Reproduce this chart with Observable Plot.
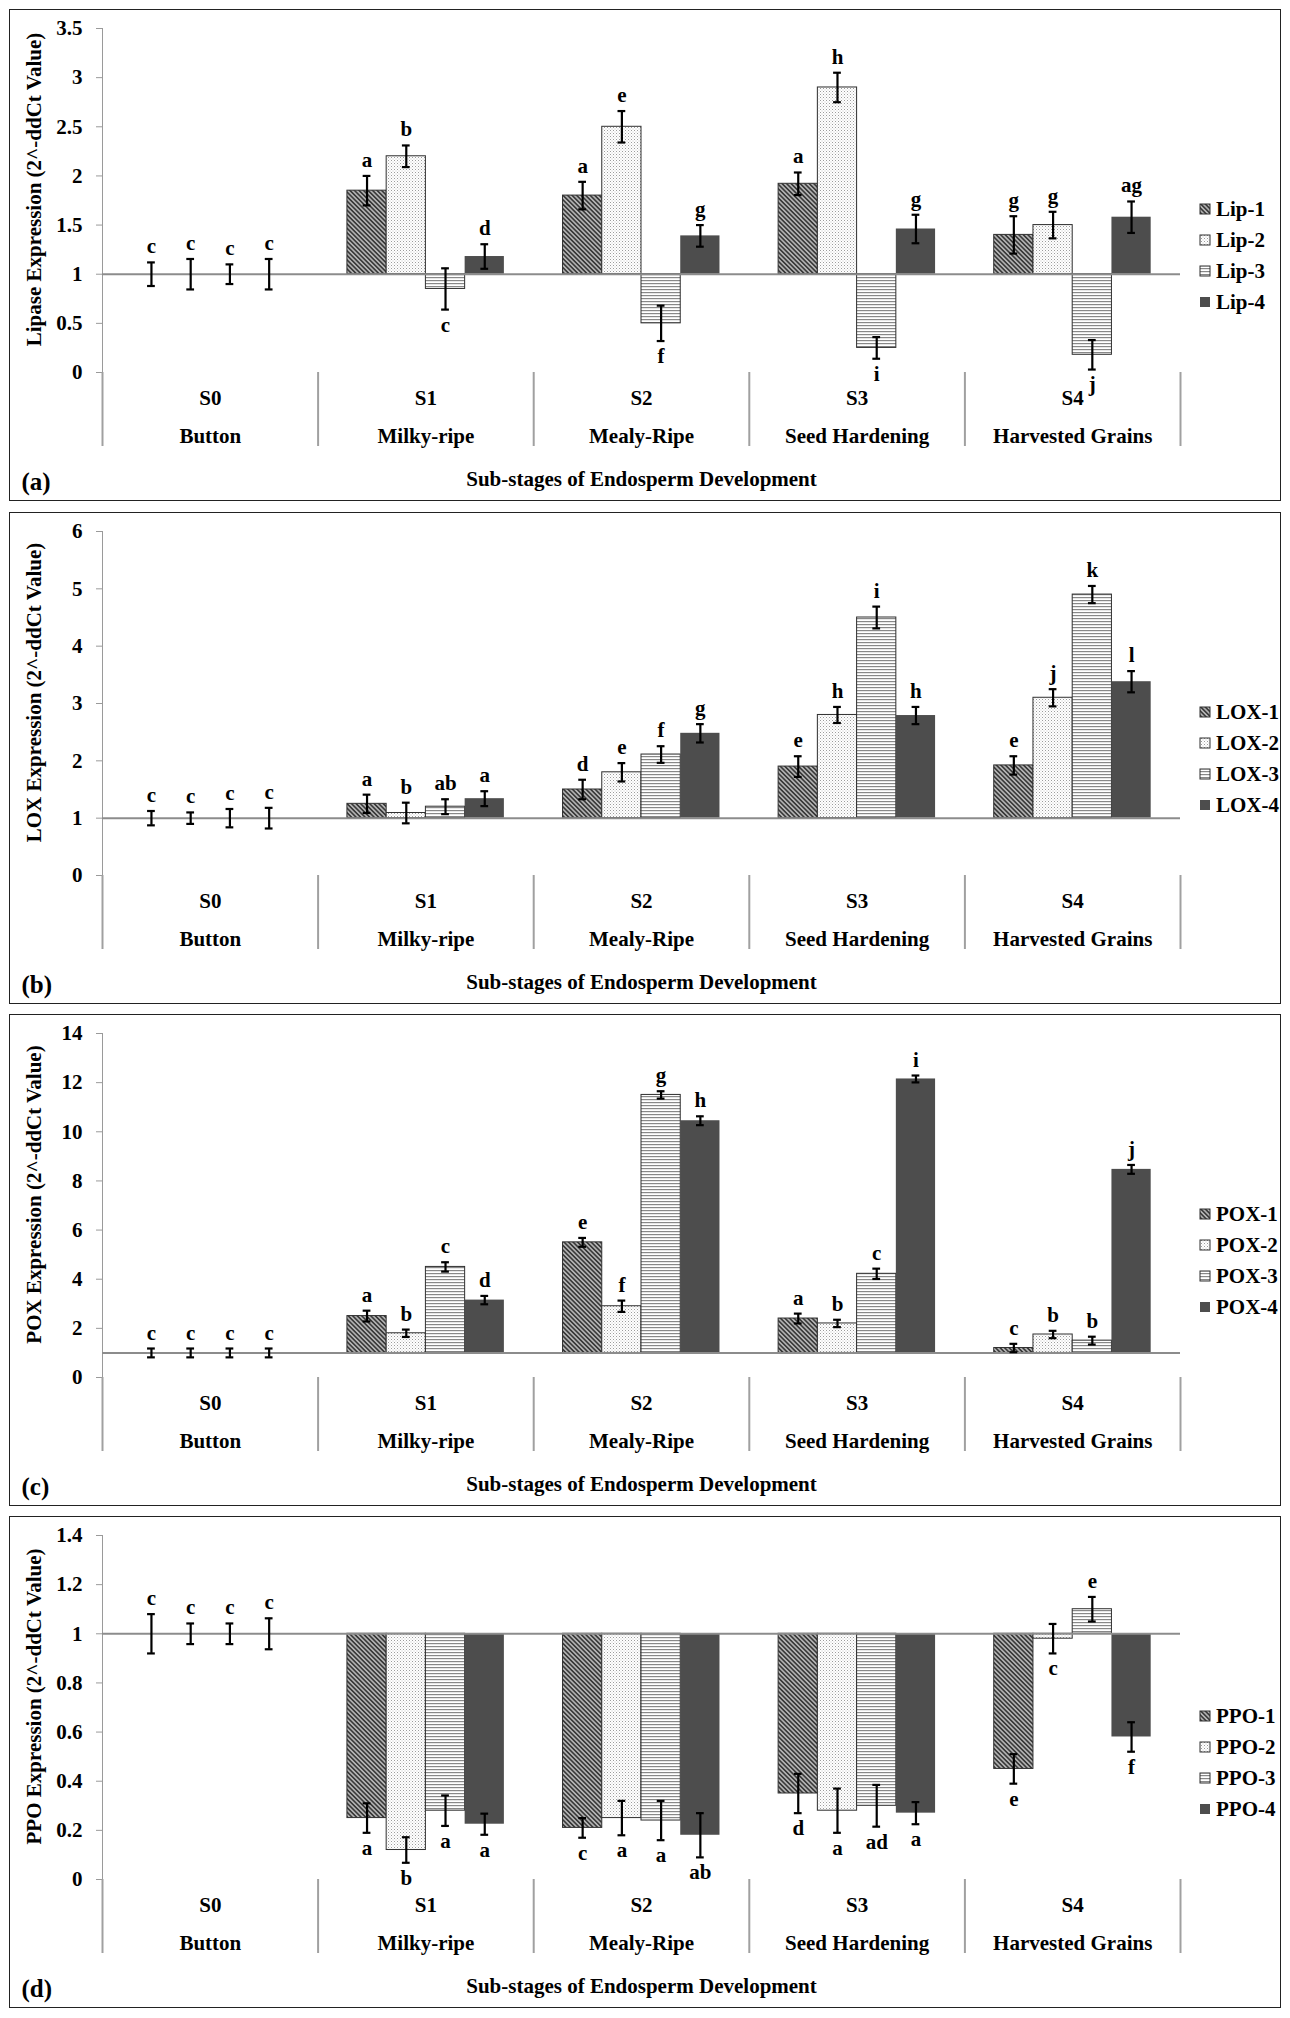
<!DOCTYPE html>
<html>
<head>
<meta charset="utf-8">
<script src="https://cdn.jsdelivr.net/npm/d3@7"></script>
<script src="https://cdn.jsdelivr.net/npm/@observablehq/plot@0.6"></script>
<style>
  html, body { margin: 0; padding: 0; background: #fff; }
  body { width: 1290px; height: 2018px; position: relative; font-family: "Liberation Serif", "Times New Roman", serif; }
  .panel { position: absolute; left: 9px; width: 1270px; height: 490px; border: 1px solid #222; background: #fff; }
  .panel svg.plotsvg { position: absolute; left: 0; top: 0; }
</style>
</head>
<body>
<svg width="0" height="0" style="position:absolute;left:0;top:0">
  <defs>
    <pattern id="pat1" patternUnits="userSpaceOnUse" width="3.2" height="3.2" patternTransform="rotate(-45)">
      <rect width="3.2" height="3.2" fill="#b2b2b2"></rect>
      <rect width="1.6" height="3.2" fill="#3a3a3a"></rect>
    </pattern>
    <pattern id="pat2" patternUnits="userSpaceOnUse" width="3" height="3">
      <rect width="3" height="3" fill="#ffffff"></rect>
      <rect x="0" y="0" width="1" height="1" fill="#9c9c9c"></rect>
      <rect x="1.5" y="1.5" width="1" height="1" fill="#c4c4c4"></rect>
    </pattern>
    <pattern id="pat3" patternUnits="userSpaceOnUse" width="4" height="3">
      <rect width="4" height="3" fill="#ffffff"></rect>
      <rect width="4" height="1.2" fill="#888888"></rect>
    </pattern>
  </defs>
</svg>
<div id="pa" class="panel" style="top:9px"></div>
<div id="pb" class="panel" style="top:512px"></div>
<div id="pc" class="panel" style="top:1014px"></div>
<div id="pd" class="panel" style="top:1516px"></div>
<script>
// ---------------- data ----------------
const stages = ["S0", "S1", "S2", "S3", "S4"];
const stageNames = ["Button", "Milky-ripe", "Mealy-Ripe", "Seed Hardening", "Harvested Grains"];
const xTitle = "Sub-stages of Endosperm Development";

// Lipase (a)
const lipGenes = ["Lip-1", "Lip-2", "Lip-3", "Lip-4"];
const lipValues = [
  [1, 1, 1, 1],
  [1.85, 2.2, 0.85, 1.18],
  [1.8, 2.5, 0.5, 1.39],
  [1.92, 2.9, 0.25, 1.46],
  [1.4, 1.5, 0.18, 1.58]
];
const lipErrors = [
  [0.12, 0.155, 0.10, 0.155],
  [0.15, 0.11, 0.21, 0.125],
  [0.14, 0.16, 0.18, 0.11],
  [0.115, 0.15, 0.11, 0.145],
  [0.19, 0.135, 0.15, 0.16]
];
const lipLetters = [
  ["c", "c", "c", "c"],
  ["a", "b", "c", "d"],
  ["a", "e", "f", "g"],
  ["a", "h", "i", "g"],
  ["g", "g", "j", "ag"]
];
const lipTicks = [0, 0.5, 1, 1.5, 2, 2.5, 3, 3.5];

// LOX (b)
const loxGenes = ["LOX-1", "LOX-2", "LOX-3", "LOX-4"];
const loxValues = [
  [1, 1, 1, 1],
  [1.25, 1.09, 1.2, 1.34],
  [1.5, 1.8, 2.11, 2.48],
  [1.9, 2.8, 4.5, 2.79],
  [1.92, 3.1, 4.9, 3.38]
];
const loxErrors = [
  [0.125, 0.1, 0.16, 0.18],
  [0.16, 0.18, 0.13, 0.13],
  [0.17, 0.16, 0.145, 0.16],
  [0.18, 0.14, 0.19, 0.15],
  [0.16, 0.15, 0.15, 0.185]
];
const loxLetters = [
  ["c", "c", "c", "c"],
  ["a", "b", "ab", "a"],
  ["d", "e", "f", "g"],
  ["e", "h", "i", "h"],
  ["e", "j", "k", "l"]
];
const loxTicks = [0, 1, 2, 3, 4, 5, 6];

// POX (c)
const poxGenes = ["POX-1", "POX-2", "POX-3", "POX-4"];
const poxValues = [
  [1, 1, 1, 1],
  [2.5, 1.8, 4.5, 3.15],
  [5.5, 2.9, 11.5, 10.45],
  [2.4, 2.2, 4.22, 12.15],
  [1.2, 1.75, 1.5, 8.47]
];
const poxErrors = [
  [0.18, 0.18, 0.18, 0.18],
  [0.22, 0.15, 0.19, 0.17],
  [0.18, 0.23, 0.15, 0.18],
  [0.2, 0.15, 0.21, 0.14],
  [0.17, 0.15, 0.16, 0.18]
];
const poxLetters = [
  ["c", "c", "c", "c"],
  ["a", "b", "c", "d"],
  ["e", "f", "g", "h"],
  ["a", "b", "c", "i"],
  ["c", "b", "b", "j"]
];
const poxTicks = [0, 2, 4, 6, 8, 10, 12, 14];

// PPO (d)
const ppoGenes = ["PPO-1", "PPO-2", "PPO-3", "PPO-4"];
const ppoValues = [
  [1, 1, 1, 1],
  [0.25, 0.12, 0.28, 0.225],
  [0.21, 0.25, 0.24, 0.18],
  [0.35, 0.28, 0.30, 0.27],
  [0.45, 0.98, 1.1, 0.58]
];
const ppoErrors = [
  [0.08, 0.042, 0.042, 0.063],
  [0.06, 0.052, 0.062, 0.043],
  [0.04, 0.07, 0.08, 0.09],
  [0.08, 0.09, 0.085, 0.045],
  [0.06, 0.06, 0.05, 0.06]
];
const ppoLetters = [
  ["c", "c", "c", "c"],
  ["a", "b", "a", "a"],
  ["c", "a", "a", "ab"],
  ["d", "a", "ad", "a"],
  ["e", "c", "e", "f"]
];
const ppoTicks = [0, 0.2, 0.4, 0.6, 0.8, 1, 1.2, 1.4];

// ---------------- styles ----------------
const geneFills = ["url(#pat1)", "url(#pat2)", "url(#pat3)", "#4d4d4d"];
const geneStrokes = ["#303030", "#303030", "#303030", "none"];
const barW = 0.182;      // width of one bar in stage units
const capHalf = 0.018;   // half width of error caps in stage units
const fontFamily = "'Liberation Serif', 'Times New Roman', Times, serif";

function buildRows(values, errors, letters) {
  const rows = [];
  values.forEach((vals, si) => vals.forEach((v, gi) => {
    const x1 = si + (gi - 2) * barW;
    rows.push({si, gi, value: v, err: errors[si][gi], letter: letters[si][gi],
      x1, x2: x1 + barW, xc: x1 + barW / 2});
  }));
  return rows;
}

function drawPanel(id, cfg) {
  const rows = buildRows(cfg.values, cfg.errors, cfg.letters);
  const up = rows.filter(d => d.value >= 1);
  const down = rows.filter(d => d.value < 1);
  const stageIdx = stages.map((_, i) => i);
  const bounds = stages.map((_, i) => i - 0.5).concat([stages.length - 0.5]);

  const plot = Plot.plot({
    width: 1270,
    height: 490,
    marginLeft: 92,
    marginRight: 100,
    marginTop: 18,
    marginBottom: 128,
    x: {domain: [-0.5, stages.length - 0.5], axis: null},
    y: {domain: [0, cfg.ticks[cfg.ticks.length - 1]], axis: null},
    color: {type: "identity"},
    style: {fontFamily, fontSize: "21px", fontWeight: "bold", color: "#000", background: "#fff"},
    marks: [
      Plot.ruleX([-0.5], {stroke: "#9a9a9a", strokeWidth: 1}),
      Plot.axisY({ticks: cfg.ticks, tickFormat: d => `${d}`, tickSize: 6, tickPadding: 14,
        stroke: "#9a9a9a", fill: "#000", label: null}),
      Plot.axisX({ticks: bounds, tickSize: 74, tickFormat: () => "", stroke: "#a0a0a0",
        strokeWidth: 2, label: null}),
      Plot.axisX({ticks: stageIdx, tickSize: 0, tickPadding: 17.5, tickFormat: i => stages[i],
        fill: "#000", label: null}),
      Plot.axisX({ticks: stageIdx, tickSize: 0, tickPadding: 55.5, tickFormat: i => stageNames[i],
        fill: "#000", label: null}),
      Plot.rectY(rows, {x1: "x1", x2: "x2", y1: 1, y2: "value",
        fill: d => geneFills[d.gi], stroke: d => geneStrokes[d.gi], strokeWidth: 1}),
      Plot.ruleY([1], {stroke: "#8c8c8c", strokeWidth: 2}),
      Plot.ruleX(rows, {x: "xc", y1: d => d.value - d.err, y2: d => d.value + d.err,
        stroke: "#000", strokeWidth: 2.2}),
      Plot.ruleY(rows, {x1: d => d.xc - capHalf, x2: d => d.xc + capHalf, y: d => d.value + d.err,
        stroke: "#000", strokeWidth: 2.2}),
      Plot.ruleY(rows, {x1: d => d.xc - capHalf, x2: d => d.xc + capHalf, y: d => d.value - d.err,
        stroke: "#000", strokeWidth: 2.2}),
      Plot.text(up, {x: "xc", y: d => d.value + d.err, text: "letter", lineAnchor: "bottom", dy: -9, fill: "#000"}),
      Plot.text(down, {x: "xc", y: d => d.value - d.err, text: "letter", lineAnchor: "top", dy: 7, fill: "#000"}),
      Plot.text([cfg.ylabel], {text: d => d, frameAnchor: "left", textAnchor: "middle", lineAnchor: "middle",
        dx: -68, dy: -11, rotate: -90, fill: "#000"}),
      Plot.text([xTitle], {text: d => d, frameAnchor: "bottom", dy: 113, fill: "#000"}),
      Plot.text([cfg.tag], {text: d => d, frameAnchor: "bottom-left", dx: -81, dy: 117,
        textAnchor: "start", fontSize: 25, fill: "#000"})
    ]
  });
  plot.classList.add("plotsvg");

  // legend
  const svg = d3.select(plot);
  const g = svg.append("g").attr("font-family", fontFamily).attr("font-size", 21)
    .attr("font-weight", "bold").attr("text-anchor", "start");
  cfg.genes.forEach((name, i) => {
    const yy = 199 + i * 31;
    g.append("rect").attr("x", 1190).attr("y", yy - 5).attr("width", 10).attr("height", 10)
      .attr("fill", geneFills[i]).attr("stroke", geneStrokes[i]).attr("stroke-width", 1);
    g.append("text").attr("x", 1206).attr("y", yy).attr("dy", "0.35em")
      .attr("text-anchor", "start").attr("fill", "#000").text(name);
  });

  document.getElementById(id).appendChild(plot);
}

drawPanel("pa", {values: lipValues, errors: lipErrors, letters: lipLetters, ticks: lipTicks,
  genes: lipGenes, ylabel: "Lipase Expression (2^-ddCt Value)", tag: "(a)"});
drawPanel("pb", {values: loxValues, errors: loxErrors, letters: loxLetters, ticks: loxTicks,
  genes: loxGenes, ylabel: "LOX Expression (2^-ddCt Value)", tag: "(b)"});
drawPanel("pc", {values: poxValues, errors: poxErrors, letters: poxLetters, ticks: poxTicks,
  genes: poxGenes, ylabel: "POX Expression (2^-ddCt Value)", tag: "(c)"});
drawPanel("pd", {values: ppoValues, errors: ppoErrors, letters: ppoLetters, ticks: ppoTicks,
  genes: ppoGenes, ylabel: "PPO Expression (2^-ddCt Value)", tag: "(d)"});
</script>
</body>
</html>
